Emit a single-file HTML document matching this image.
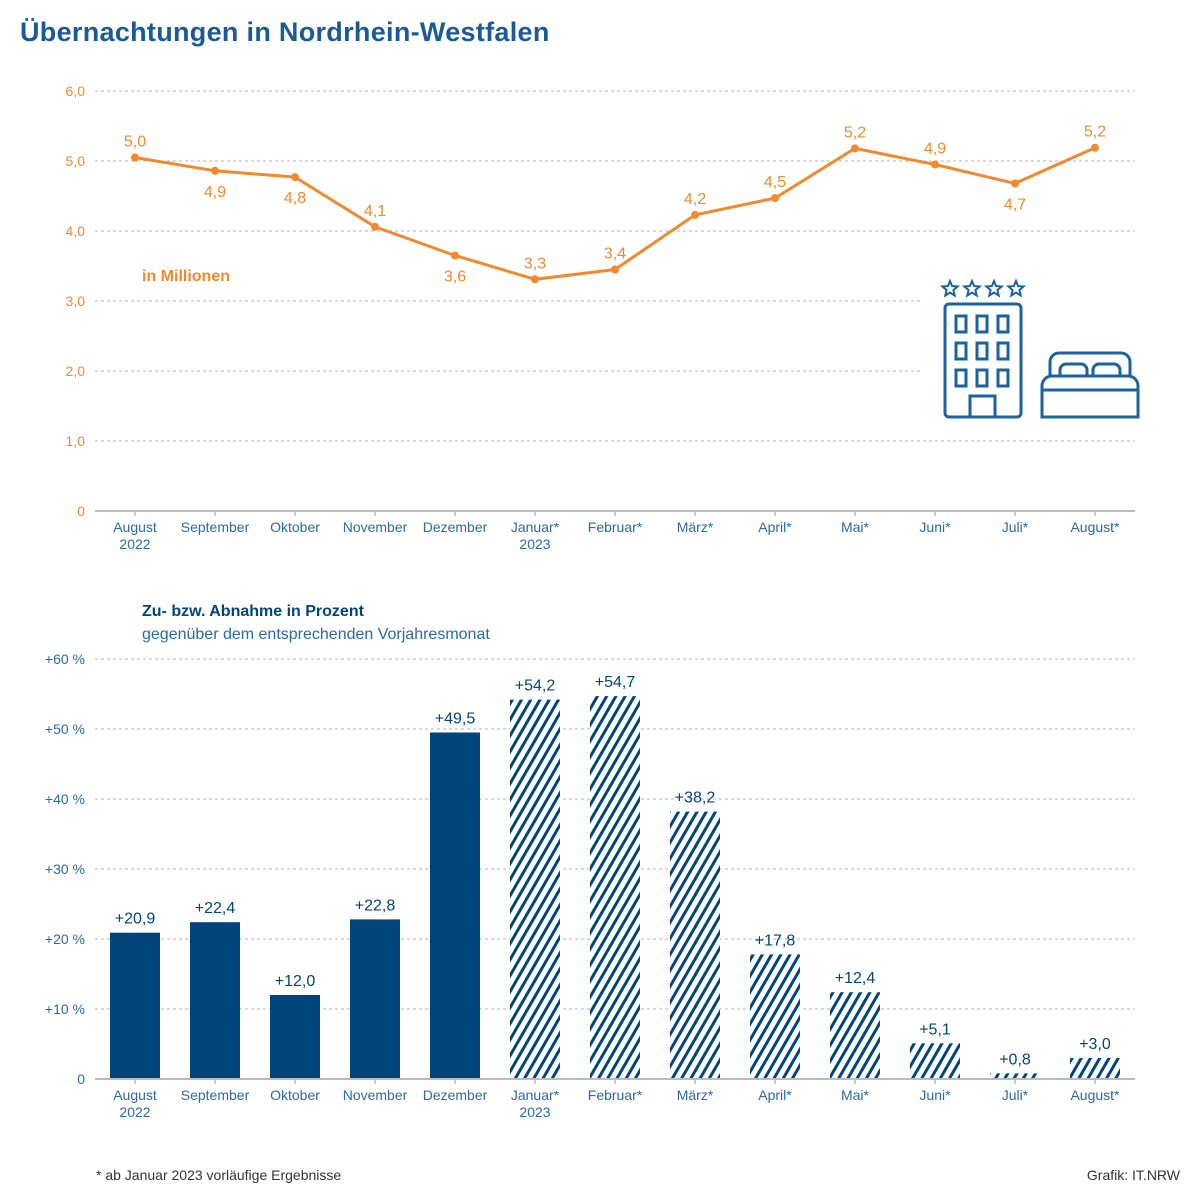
<!DOCTYPE html>
<html><head><meta charset="utf-8">
<style>
body{margin:0;background:#fff;}
svg{display:block;font-family:"Liberation Sans",sans-serif;}
</style></head>
<body>
<svg id="chart" width="1200" height="1200" viewBox="0 0 1200 1200" xmlns="http://www.w3.org/2000/svg">
<defs>
<pattern id="hatch" patternUnits="userSpaceOnUse" width="8" height="8" patternTransform="rotate(30)">
<rect width="8" height="8" fill="#fff"/>
<rect x="0" y="0" width="3" height="8" fill="#00457c"/>
</pattern>
</defs>
<text x="20" y="41" font-size="27" font-weight="bold" letter-spacing="0.3" fill="#1a5a96">Übernachtungen in Nordrhein-Westfalen</text>
<g id="topg"></g>
<g id="botg"></g>
<g fill="none" stroke="#1a62a0" stroke-width="3">
<rect x="945" y="304" width="76" height="113" rx="4"/>
<rect x="956" y="316" width="10" height="16"/><rect x="977" y="316" width="10" height="16"/><rect x="998" y="316" width="10" height="16"/>
<rect x="956" y="343" width="10" height="16"/><rect x="977" y="343" width="10" height="16"/><rect x="998" y="343" width="10" height="16"/>
<rect x="956" y="370" width="10" height="16"/><rect x="977" y="370" width="10" height="16"/><rect x="998" y="370" width="10" height="16"/>
<rect x="970" y="396" width="25" height="21"/>
<path d="M1050 376 V362 a9 9 0 0 1 9 -9 h62 a9 9 0 0 1 9 9 V376"/>
<path d="M1060 376 v-6 a6 6 0 0 1 6 -6 h15 a6 6 0 0 1 6 6 v6 M1093 376 v-6 a6 6 0 0 1 6 -6 h15 a6 6 0 0 1 6 6 v6"/>
<path d="M1042 417 V386 a10 10 0 0 1 10 -10 h76 a10 10 0 0 1 10 10 V417 Z M1042 390 H1138"/>
</g>
<g fill="none" stroke="#1a62a0" stroke-width="2" id="stars"></g>
<text x="96" y="1180" font-size="14" fill="#333">*  ab Januar 2023 vorläufige Ergebnisse</text>
<text x="1180" y="1180" font-size="14" fill="#333" text-anchor="end">Grafik: IT.NRW</text>
</svg>
<script>
const months = ["August","September","Oktober","November","Dezember","Januar*","Februar*","März*","April*","Mai*","Juni*","Juli*","August*"];
const yearLabels = ["2022","","","","","2023","","","","","","",""];
const nights = [5.05,4.86,4.77,4.06,3.65,3.31,3.45,4.23,4.47,5.18,4.95,4.68,5.19];
const nightLabels = ["5,0","4,9","4,8","4,1","3,6","3,3","3,4","4,2","4,5","5,2","4,9","4,7","5,2"];
const labelBelow = [false,true,true,false,true,false,false,false,false,false,false,true,false];
const topTicks = [0,1,2,3,4,5,6];
const topTickLabels = ["0","1,0","2,0","3,0","4,0","5,0","6,0"];
const change = [20.9,22.4,12.0,22.8,49.5,54.2,54.7,38.2,17.8,12.4,5.1,0.8,3.0];
const changeLabels = ["+20,9","+22,4","+12,0","+22,8","+49,5","+54,2","+54,7","+38,2","+17,8","+12,4","+5,1","+0,8","+3,0"];
const provisional = [false,false,false,false,false,true,true,true,true,true,true,true,true];
const botTicks = [0,10,20,30,40,50,60];
const botTickLabels = ["0","+10 %","+20 %","+30 %","+40 %","+50 %","+60 %"];

const NS="http://www.w3.org/2000/svg";
function mk(parent,tag,attrs,text){const e=document.createElementNS(NS,tag);for(const k in attrs)e.setAttribute(k,attrs[k]);if(text!==undefined)e.textContent=text;parent.appendChild(e);return e;}
const xPos=i=>135+i*80;
const yTop=v=>511-v*70;
const yBot=v=>1079-v*7;

const st=document.getElementById('stars');
[950,972,994,1016].forEach(cx=>{let p=[];for(let k=0;k<10;k++){const r=k%2?3.6:8;const a=-Math.PI/2+k*Math.PI/5;p.push((cx+r*Math.cos(a)).toFixed(1)+","+(289+r*Math.sin(a)).toFixed(1));}
const s=mk(st,'polygon',{points:p.join(' ')});

});

const topG=document.getElementById('topg');
topTicks.forEach((t,i)=>{
 const y=yTop(t);
 if(t>0){const g=mk(topG,'line',{x1:95,x2:(t===2||t===3)?920:1135,y1:y,y2:y,stroke:"#b5b5b5","stroke-dasharray":"3,3"});
 
 }
 const l=mk(topG,'text',{x:85,y:y+5,"text-anchor":"end","font-size":14,fill:"#f08a2c"},topTickLabels[i]);
 
 
});
const ax=mk(topG,'line',{x1:95,x2:1135,y1:511,y2:511,stroke:"#bbb","stroke-width":2});


const unit=mk(topG,'text',{x:142,y:281,"font-size":16,"font-weight":"bold",fill:"#f08a2c"},"in Millionen");


const nLine=mk(topG,'polyline',{points:nights.map((v,i)=>xPos(i)+","+yTop(v)).join(' '),fill:"none",stroke:"#f08a2c","stroke-width":3});


nights.forEach((v,i)=>{
 const c=mk(topG,'circle',{cx:xPos(i),cy:yTop(v),r:4,fill:"#f08a2c"});
 
 
 const ty=labelBelow[i]?yTop(v)+26:yTop(v)-11;
 const t=mk(topG,'text',{x:xPos(i),y:ty,"text-anchor":"middle","font-size":16,fill:"#f08a2c"},nightLabels[i]);
 
 
});
function xLabels(g,base){
 months.forEach((m,i)=>{
  const tk=mk(g,'line',{x1:xPos(i),x2:xPos(i),y1:base,y2:base+5,stroke:"#bbb","stroke-width":1.5});
  
  
  const t=mk(g,'text',{x:xPos(i),y:base+21,"text-anchor":"middle","font-size":14,fill:"#2a6aa6"},m);
  
  
  if(yearLabels[i]){const y=mk(g,'text',{x:xPos(i),y:base+38,"text-anchor":"middle","font-size":14,fill:"#2a6aa6"},yearLabels[i]);
  
  }
 });
}
xLabels(topG,511);

const botG=document.getElementById('botg');
const h1=mk(botG,'text',{x:142,y:616,"font-size":16,"font-weight":"bold",fill:"#00457c"},"Zu- bzw. Abnahme in Prozent");


const h2=mk(botG,'text',{x:142,y:639,"font-size":16,fill:"#2a6aa6"},"gegenüber dem entsprechenden Vorjahresmonat");


botTicks.forEach((t,i)=>{
 const y=yBot(t);
 if(t>0){const g=mk(botG,'line',{x1:95,x2:1135,y1:y,y2:y,stroke:"#b5b5b5","stroke-dasharray":"3,3"});
 
 }
 const l=mk(botG,'text',{x:85,y:y+5,"text-anchor":"end","font-size":14,fill:"#2a6aa6"},botTickLabels[i]);
 
 
});
change.forEach((v,i)=>{
 const y=yBot(v);
 const b=mk(botG,'rect',{x:xPos(i)-25,y:y,width:50,height:1079-y,fill:provisional[i]?"url(#hatch)":"#00457c"});
 
 
 const t=mk(botG,'text',{x:xPos(i),y:y-9,"text-anchor":"middle","font-size":16,fill:"#00457c"},changeLabels[i]);
 
 
});
const ax2=mk(botG,'line',{x1:95,x2:1135,y1:1079,y2:1079,stroke:"#bbb","stroke-width":2});


xLabels(botG,1079);
</script>
</body></html>
